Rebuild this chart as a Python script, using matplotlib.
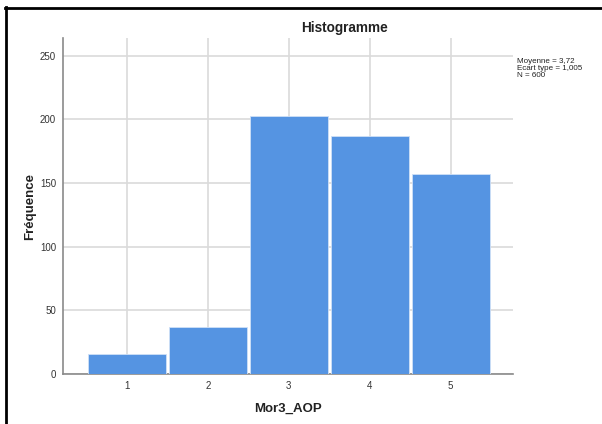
import matplotlib
matplotlib.use("Agg")
import matplotlib.pyplot as plt
from matplotlib.lines import Line2D

plt.rcParams['font.family'] = ['Liberation Sans', 'DejaVu Sans']

categories = [1, 2, 3, 4, 5]
frequencies = [16, 37, 203, 187, 157]
yticks = [0, 50, 100, 150, 200, 250]
stats_lines = ["Moyenne = 3,72", "Ecart type = 1,005", "N = 600"]

fig = plt.figure(figsize=(6.02, 4.24), dpi=100)
ax = fig.add_axes([63/602, 1 - 374/424, 450/602, 336/424])

ax.bar(categories, frequencies, width=0.96, color='#5594e2',
       edgecolor='#cfe0f7', linewidth=0.6, zorder=3)

ax.set_xlim(0.21, 5.77)
ax.set_ylim(0, 264)
ax.set_xticks(categories)
ax.set_yticks(yticks)
ax.tick_params(axis='both', length=0, labelsize=7, labelcolor='#333333')
ax.tick_params(axis='x', pad=5)
ax.tick_params(axis='y', pad=5)

ax.grid(True, color='#dadada', linewidth=1.2, zorder=0)
for s in ['top', 'right']:
    ax.spines[s].set_visible(False)
for s in ['left', 'bottom']:
    ax.spines[s].set_color('#8a8a8a')
    ax.spines[s].set_linewidth(1.2)

fig.text(345/602, 1 - 28/424, "Histogramme", ha='center', va='center',
         fontsize=9.8, fontweight='bold', color='#222222')
fig.text(30/602, 1 - 207/424, "Fréquence", ha='center', va='center',
         rotation=90, fontsize=9.5, fontweight='bold', color='#222222')
fig.text(288/602, 1 - 409/424, "Mor3_AOP", ha='center', va='center',
         fontsize=9.5, fontweight='bold', color='#222222')
fig.text(517/602, 1 - 58/424, "\n".join(stats_lines), ha='left', va='top',
         fontsize=5.8, color='#222222', linespacing=1.0)

# outer frame (top and left borders)
fig.add_artist(Line2D([5.5/602, 5.5/602], [0, 1 - 7/424], transform=fig.transFigure,
                      color='black', linewidth=2))
fig.add_artist(Line2D([5/602, 1], [1 - 7.5/424, 1 - 7.5/424], transform=fig.transFigure,
                      color='black', linewidth=2))

fig.savefig("out.png", dpi=100)
